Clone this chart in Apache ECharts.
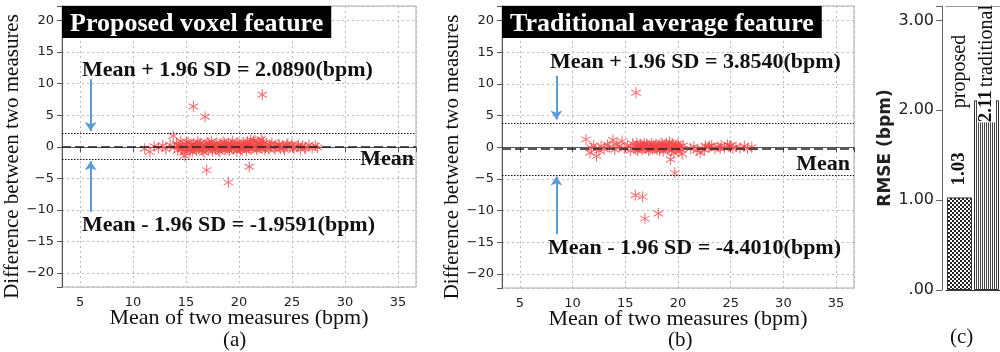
<!DOCTYPE html>
<html>
<head>
<meta charset="utf-8">
<script src="https://cdn.jsdelivr.net/npm/echarts@6/dist/echarts.min.js"></script>
<style>
  html, body { margin: 0; padding: 0; background: #fff; }
  #chart { width: 1000px; height: 352px; }
</style>
</head>
<body>
<div id="chart"></div>
<script>
// (a) proposed voxel feature: mean of two measures / difference
const meanA = [11.1, 11.6, 12.0, 12.4, 12.8, 13.1, 13.5, 13.8, 13.9, 14.1, 14.2, 14.4, 14.5, 14.6, 14.7, 14.8, 14.9, 15.0, 15.1, 15.2,
  15.3, 15.4, 15.5, 15.6, 15.7, 15.7, 15.8, 15.9, 16.0, 16.1, 16.2, 16.3, 16.4, 16.5, 16.6, 16.7, 16.8, 16.8, 16.9, 16.95,
  17.0, 17.1, 17.2, 17.3, 17.4, 17.5, 17.6, 17.7, 17.8, 17.9, 18.0, 18.1, 18.2, 18.3, 18.4, 18.5, 18.6, 18.7, 18.8, 18.9,
  19.0, 19.0, 19.1, 19.2, 19.3, 19.4, 19.5, 19.6, 19.7, 19.8, 19.9, 20.0, 20.1, 20.2, 20.3, 20.4, 20.5, 20.6, 20.7, 20.8,
  20.9, 20.97, 21.0, 21.1, 21.2, 21.3, 21.4, 21.5, 21.6, 21.7, 21.8, 21.9, 22.0, 22.1, 22.2, 22.2, 22.3, 22.5, 22.6, 22.8,
  23.0, 23.1, 23.3, 23.5, 23.7, 23.9, 24.1, 24.3, 24.5, 24.8, 25.0, 25.2, 25.5, 25.8, 26.0, 26.3, 26.6, 26.9, 27.2, 27.4,
  14.25, 14.65, 15.05, 15.35, 15.65, 15.95, 16.25, 16.55, 16.85, 17.15, 17.45, 17.75, 18.05, 18.35, 18.65, 18.95, 19.25, 19.55,
  19.85, 20.15, 20.45, 20.75, 21.05, 21.35, 21.65, 21.95, 22.25, 22.45, 22.9, 23.4, 23.8, 24.2, 24.6, 25.1, 25.6, 26.2];
const diffA = [-0.3, -0.8, 0.1, -0.2, 0.2, -0.4, 0.3, 1.7, -0.1, 0.5, -0.6, 0.2, 0.9, -0.3, 0.1, -0.9, -1.4, 0.4, -0.2, 0.7,
  0.0, -0.5, 0.3, -0.8, 6.39, 0.5, -0.1, 0.2, -0.6, 0.8, -0.3, 0.1, 0.6, -0.4, 0.0, -0.9, 4.75, 0.4, -0.2, -3.69,
  0.7, -0.5, 0.2, -0.1, 0.9, -0.7, 0.3, 0.0, -0.4, 0.6, -0.2, 0.1, -0.8, 0.5, -0.3, 0.8, 0.0, -0.5, 0.3, -0.1,
  -5.63, 0.6, -0.6, 0.2, -0.2, 0.9, -0.4, 0.1, 0.4, -0.7, 0.0, 0.5, -0.3, 0.2, -0.5, 0.7, -0.1, 0.3, -0.6, 0.8,
  -0.2, -3.16, 0.4, 1.1, -0.4, 0.6, -0.1, 1.0, 0.2, -0.5, 0.7, -0.2, 0.3, 1.2, 8.23, -0.3, 0.5, -0.1, 0.4, -0.4,
  0.2, 0.6, -0.2, 0.1, 0.4, -0.3, 0.2, -0.5, 0.3, 0.0, 0.4, -0.3, 0.1, -0.4, 0.2, -0.1, 0.3, -0.2, 0.16, -0.1,
  0.3, -0.4, 0.8, -0.7, 0.2, -0.3, 0.5, -0.6, 0.1, 0.6, -0.3, 0.4, -0.6, 0.2, 0.6, -0.4, 0.5, -0.1,
  0.7, -0.5, 0.1, 0.5, -0.3, 0.9, -0.2, 0.5, 0.9, -0.5, 0.3, -0.4, 0.3, -0.2, 0.5, -0.1, 0.3, -0.3];
const limitsA = [2.0890, 0.0650, -1.9591];   // upper, mean, lower

// (b) traditional average feature
const meanB = [11.27, 11.65, 11.8, 12.0, 12.27, 12.5, 12.7, 13.0, 13.3, 13.5, 13.83, 14.0, 14.2, 14.4, 14.7, 14.9, 15.2, 15.5, 15.7, 15.9,
  16.02, 16.0, 16.1, 16.2, 16.3, 16.4, 16.5, 16.6, 16.7, 16.8, 16.9, 17.0, 17.1, 17.2, 17.3, 17.4, 17.5, 17.6, 17.7, 17.8,
  17.9, 18.0, 18.1, 18.2, 18.3, 18.4, 18.5, 18.6, 18.7, 18.8, 18.9, 19.0, 19.1, 19.2, 19.3, 19.4, 19.5, 19.6, 19.7, 19.8,
  19.9, 20.0, 20.1, 20.2, 20.4, 20.5, 21.2, 21.5, 21.8, 22.1, 22.3, 22.6, 22.9, 23.2, 23.5, 23.8, 24.1, 24.4, 24.7, 24.9,
  25.2, 25.5, 25.9, 26.3, 26.6, 27.0, 15.95, 16.64, 16.86, 18.14,
  16.15, 16.45, 16.75, 17.05, 17.35, 17.65, 17.95, 18.25, 18.55, 18.85, 19.15, 19.45, 19.75, 20.05, 20.3, 22.5, 23.0, 24.0, 25.0];
const diffB = [1.25, -0.87, -0.1, 0.3, -1.39, -0.5, 0.2, -0.3, 0.4, 0.1, 1.14, -0.4, 0.5, 0.2, 0.98, -0.2, 0.3, -0.5, 0.6, 0.1,
  8.62, -0.3, 0.7, 0.2, -0.1, 0.5, 0.0, -0.4, 0.3, 0.6, -0.2, 0.4, 0.1, -0.5, 0.3, 0.0, 0.6, -0.3, 0.2, -0.1,
  0.5, -0.4, 0.1, 0.4, -0.2, 0.7, 0.0, -0.6, 0.3, -0.1, 0.6, -0.3, 0.2, 0.8, -1.92, -0.5, 0.4, -0.9, -4.03, 0.3,
  -0.2, 0.6, -0.6, 0.1, -1.07, 0.3, -0.2, 0.1, -0.5, -0.87, -0.2, 0.2, 0.0, 0.3, -0.2, 0.1, 0.3, -0.1, 0.4, 0.2,
  -0.2, 0.1, -0.1, 0.2, -0.2, 0.0, -7.56, -7.82, -11.25, -10.46,
  -0.5, 0.4, -0.1, 0.5, -0.4, 0.3, 0.1, -0.5, 0.5, 0.2, -0.3, 0.6, -0.2, 0.2, -0.4, -0.4, 0.2, -0.2, 0.3];
const limitsB = [3.8540, -0.2735, -4.4010];

// (c) RMSE
const rmseCats = ['proposed', 'traditional'];
const rmseVals = [1.03, 2.11];

const SERIF = '"Liberation Serif", "Times New Roman", serif';
const SANS = '"DejaVu Sans", sans-serif';
// six-armed asterisk marker
const STAR = 'path://M9 0L11 0L11 20L9 20Z M0.84 5.87L1.84 4.13L19.16 14.13L18.16 15.87Z M1.84 15.87L0.84 14.13L18.16 4.13L19.16 5.87Z';
const BLUE = '#5b9bd8';

function makePattern(kind) {
  const c = document.createElement('canvas');
  const g = c.getContext('2d');
  if (kind === 'checker') {
    c.width = 4; c.height = 4;
    g.fillStyle = '#fff'; g.fillRect(0, 0, 4, 4);
    g.fillStyle = '#222'; g.fillRect(0, 0, 2, 2); g.fillRect(2, 2, 2, 2);
  } else {
    c.width = 2; c.height = 2;
    g.fillStyle = '#fff'; g.fillRect(0, 0, 2, 2);
    g.fillStyle = '#444'; g.fillRect(0, 0, 1, 2);
  }
  return { image: c, repeat: 'repeat' };
}

const fiveFmt = v => {
  const r = Math.round(v);
  if (Math.abs(v - r) > 1e-6 || r % 5 !== 0) return '';
  return r < 0 ? '\u2212' + (-r) : String(r);
};

function baX(gi) {
  return {
    type: 'value', gridIndex: gi, min: 3.3, max: 36.7, splitNumber: 7,
    name: 'Mean of two measures (bpm)', nameLocation: 'middle', nameGap: 20, nameMoveOverlap: false,
    nameTextStyle: { fontFamily: SERIF, fontSize: 22, color: '#111' },
    axisLine: { lineStyle: { color: '#555' } },
    axisTick: { length: 5, lineStyle: { color: '#555' } },
    axisLabel: { formatter: fiveFmt, fontFamily: SANS, fontSize: 13, color: '#222', margin: 9 },
    splitLine: { lineStyle: { color: '#bbb', type: [2, 3] } }
  };
}
function baY(gi) {
  return {
    type: 'value', gridIndex: gi, min: -22.2, max: 22.3, splitNumber: 9,
    name: 'Difference between two measures', nameLocation: 'middle', nameGap: 30,
    nameTextStyle: { fontFamily: SERIF, fontSize: 21, color: '#111', padding: [0, 20, 0, 0] },
    axisLine: { lineStyle: { color: '#555' } },
    axisTick: { length: 5, lineStyle: { color: '#555' } },
    axisLabel: { formatter: fiveFmt, fontFamily: SANS, fontSize: 13, color: '#222', margin: 8 },
    splitLine: { lineStyle: { color: '#bbb', type: [2, 3] } }
  };
}
function baSeries(gi, xs, ys, lim, arrowX, up, down, meanDist) {
  const dotted = { color: '#111', type: [1.5, 1.5], width: 1 };
  return {
    type: 'scatter', xAxisIndex: gi, yAxisIndex: gi,
    data: xs.map((x, i) => [x, ys[i]]),
    symbol: STAR, symbolSize: 11, symbolKeepAspect: true,
    itemStyle: { color: '#f24646', opacity: 0.75 },
    markLine: {
      silent: true, animation: false, symbol: ['none', 'none'],
      label: { show: false },
      data: [
        { yAxis: lim[0], lineStyle: dotted },
        { yAxis: lim[1], lineStyle: { color: '#222', type: [9, 4], width: 1.6 },
          label: { show: true, formatter: 'Mean', position: 'insideEndBottom', distance: meanDist,
                   fontFamily: SERIF, fontWeight: 'bold', fontSize: 22, color: '#111' } },
        { yAxis: lim[2], lineStyle: dotted },
        [{ coord: [arrowX, up[0]], symbol: 'none', lineStyle: { color: BLUE, width: 2, type: 'solid' } },
         { coord: [arrowX, up[1]], symbol: 'arrow', symbolSize: 9 }],
        [{ coord: [arrowX, down[0]], symbol: 'none', lineStyle: { color: BLUE, width: 2, type: 'solid' } },
         { coord: [arrowX, down[1]], symbol: 'arrow', symbolSize: 9 }]
      ]
    }
  };
}

function boxTitle(text, left) {
  return {
    text, left, top: 6, backgroundColor: '#000', padding: [5, 8, 1, 8],
    textStyle: { color: '#fff', fontFamily: SERIF, fontWeight: 'bold', fontSize: 26, lineHeight: 26 }
  };
}
function note(text, left, top, bold, size) {
  return {
    text, left, top, padding: 0,
    textStyle: { color: '#111', fontFamily: SERIF, fontWeight: bold ? 'bold' : 'normal', fontSize: size, lineHeight: size }
  };
}

const chart = echarts.init(document.getElementById('chart'), null, { renderer: 'canvas' });
const labelDist = [12, -22];
const gapW = [44, 3];

chart.setOption({
  animation: false,
  backgroundColor: '#fff',
  title: [
    boxTitle('Proposed voxel feature', 62),
    boxTitle('Traditional average feature', 502),
    note('Mean + 1.96 SD = 2.0890(bpm)', 82, 59, true, 22),
    note('Mean - 1.96 SD = -1.9591(bpm)', 82, 214, true, 22),
    note('Mean + 1.96 SD = 3.8540(bpm)', 550, 51, true, 22),
    note('Mean - 1.96 SD = -4.4010(bpm)', 548, 237, true, 22),
    note('(a)', 223, 330, false, 21),
    note('(b)', 668, 330, false, 21),
    note('(c)', 950, 327, false, 21)
  ],
  grid: [
    { left: 62, top: 6, width: 354, height: 281, show: true, borderColor: '#aaa', borderWidth: 1 },
    { left: 502, top: 6, width: 352, height: 282, show: true, borderColor: '#aaa', borderWidth: 1 },
    { left: 946, top: 6, width: 61, height: 284 }
  ],
  xAxis: [
    baX(0), baX(1),
    { type: 'category', gridIndex: 2, data: rmseCats,
      axisLine: { lineStyle: { color: '#333' } }, axisTick: { show: false }, axisLabel: { show: false } },
    { type: 'category', gridIndex: 2, position: 'top', data: rmseCats,
      axisLine: { lineStyle: { color: '#999' } }, axisTick: { show: false }, axisLabel: { show: false } }
  ],
  yAxis: [
    baY(0), baY(1),
    { type: 'value', gridIndex: 2, min: 0, max: 3.16, interval: 1, offset: 4,
      name: 'RMSE (bpm)', nameLocation: 'middle', nameGap: 46,
      nameTextStyle: { fontFamily: SANS, fontWeight: 'bold', fontSize: 17, color: '#222' },
      axisLine: { show: true, lineStyle: { color: '#666' } },
      axisTick: { show: true, length: 6, lineStyle: { color: '#666' } },
      axisLabel: { fontFamily: SANS, fontSize: 16, color: '#222', margin: 8,
        formatter: v => Number.isInteger(v) ? (v === 0 ? '.00' : v.toFixed(2)) : '' },
      splitLine: { show: false } }
  ],
  series: [
    baSeries(0, meanA, diffA, limitsA, 6.0, [10.7, 2.5], [-10.3, -2.3], 2),
    baSeries(1, meanB, diffB, limitsB, 8.46, [11.3, 4.4], [-13.7, -4.6], 4),
    {
      type: 'bar', xAxisIndex: 2, yAxisIndex: 2, barWidth: 25,
      itemStyle: { borderColor: '#333', borderWidth: 1 },
      label: {
        show: true, position: 'top', rotate: 90, align: 'left', verticalAlign: 'middle',
        rich: {
          v: { fontFamily: SERIF, fontWeight: 'bold', fontSize: 19, color: '#111', backgroundColor: '#fff' },
          g0: { width: gapW[0] }, g1: { width: gapW[1] },
          n: { fontFamily: SERIF, fontSize: 20, color: '#111' }
        }
      },
      data: rmseVals.map((v, i) => ({
        value: v,
        itemStyle: { color: makePattern(i === 0 ? 'checker' : 'stripes') },
        label: { distance: labelDist[i], formatter: `{v|${v.toFixed(2)}}{g${i}|}{n|${rmseCats[i]}}` }
      }))
    }
  ]
});
</script>
</body>
</html>
